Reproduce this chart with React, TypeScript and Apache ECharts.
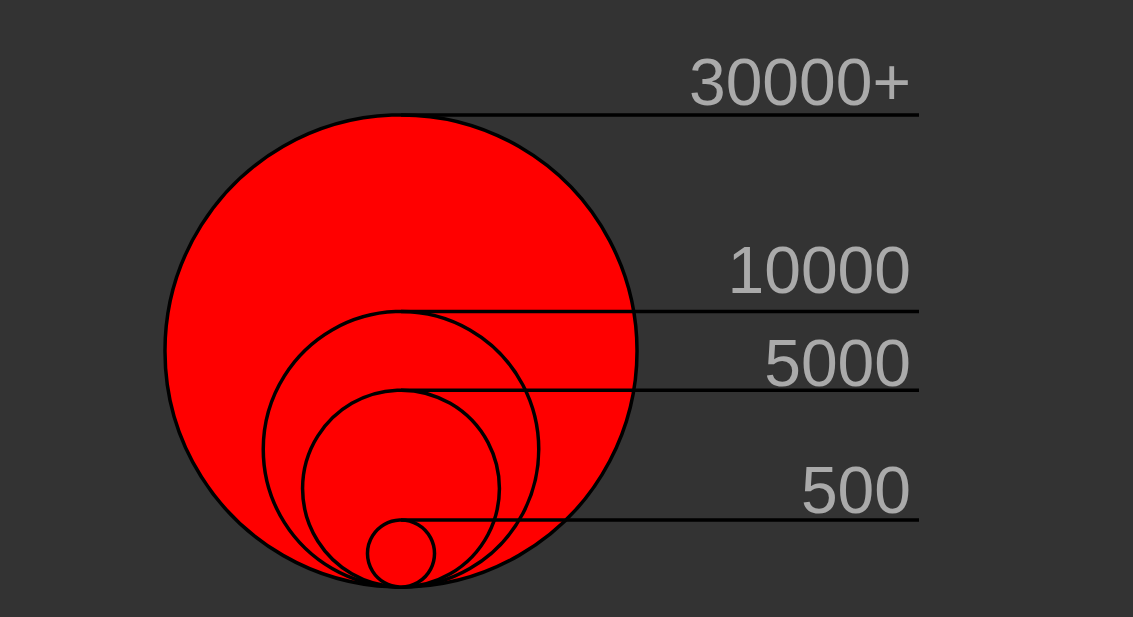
import React, { useEffect, useRef } from "react";
import * as echarts from "echarts";

// Data
const values = [30000, 10000, 5000, 500];
const labels = ["30000+", "10000", "5000", "500"];

// Layout (not data)
const W = 1133;
const H = 617;
const CENTER_X = 401;
const BASE_Y = 587;
const DIAM_OFFSET = 7; // px
const DIAM_K = 2.685; // px diameter per sqrt(value)
const LINE_END_X = 919;
const TEXT_RIGHT_X = 911;
const LABEL_RAISE = [32.5, 42, 27, 29.5];

export default function App() {
  const ref = useRef<HTMLDivElement>(null);

  useEffect(() => {
    if (!ref.current) return;
    const chart = echarts.init(ref.current, undefined, { renderer: "svg" });
    chart.setOption({
      animation: false,
      backgroundColor: "#333333",
      grid: { left: 0, right: 0, top: 0, bottom: 0 },
      xAxis: { type: "value", min: 0, max: W, show: false },
      yAxis: { type: "value", min: 0, max: H, inverse: true, show: false },
      series: [
        {
          type: "custom",
          data: values.map((v) => [v]),
          encode: { x: [], y: [] },
          renderItem: (params: any, api: any) => {
            const v = api.value(0);
            const idx = params.dataIndex;
            const d = DIAM_OFFSET + DIAM_K * Math.sqrt(v);
            const r = d / 2;
            const base = api.coord([CENTER_X, BASE_Y]);
            const cx = base[0];
            const by = base[1];
            const cy = by - r;
            const top = by - d;
            return {
              type: "group",
              children: [
                {
                  type: "circle",
                  shape: { cx, cy, r },
                  style: { fill: "#ff0000", stroke: "#000000", lineWidth: 3.5 },
                },
                {
                  type: "line",
                  shape: { x1: cx, y1: top, x2: LINE_END_X, y2: top },
                  style: { stroke: "#000000", lineWidth: 3.5 },
                },
                {
                  type: "text",
                  style: {
                    text: labels[idx],
                    x: TEXT_RIGHT_X,
                    y: top - LABEL_RAISE[idx],
                    align: "right",
                    verticalAlign: "middle",
                    fontSize: 66,
                    fontFamily: "Liberation Sans, Arial, sans-serif",
                    fill: "#aaaaaa",
                  },
                },
              ],
            };
          },
        },
      ],
    });
    return () => chart.dispose();
  }, []);

  return (
    <div
      ref={ref}
      style={{ position: "fixed", left: 0, top: 0, width: W, height: H }}
    />
  );
}
